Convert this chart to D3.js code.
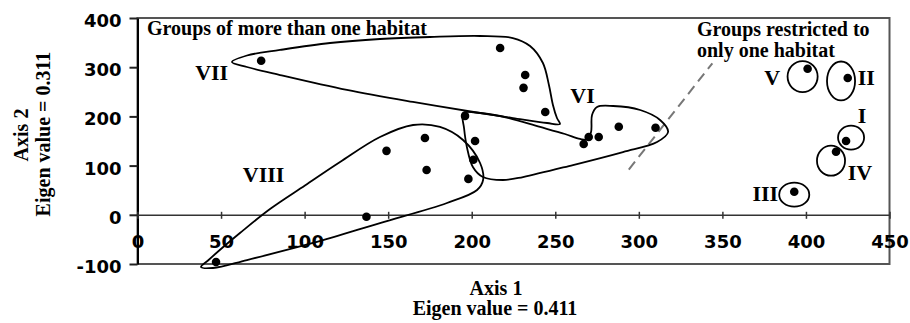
<!DOCTYPE html>
<head>
<meta charset="utf-8">
<style>

body {
  margin: 0;
  background: #fff;
}
.tick text {
  font-family: "DejaVu Sans", sans-serif;
  font-weight: bold;
  font-size: 18px;
  fill: #000;
}
.serif {
  font-family: "Liberation Serif", "Times New Roman", serif;
  font-weight: bold;
  fill: #000;
}

</style>
</head>
<body>
<script src="https://cdnjs.cloudflare.com/ajax/libs/d3/7.8.5/d3.min.js"></script>

<script>

// axis ticks
var xTicks = [0, 50, 100, 150, 200, 250, 300, 350, 400, 450];
var yTicks = [-100, 0, 100, 200, 300, 400];

// sites (axis 1, axis 2)
var sites = [
  [74, 313], [217, 339], [232, 284], [231, 258], [244, 209],
  [149, 130], [172, 156], [173, 91], [196, 201], [202, 150],
  [201, 112], [198, 73], [137, -4], [47, -96],
  [267, 144], [270, 158], [276, 158], [288, 179], [310, 177],
  [401, 297], [425, 278], [424, 150], [418, 128], [393, 47]
];

// hand drawn group outlines, in axis units
var groupVII = [
  [56.5, 310.6], [65.5, 323.8], [85.3, 335], [115.2, 349.2], [145.1, 357.3],
  [175, 361.4], [204.9, 363.4], [224.6, 359.3], [234.9, 343.1], [242.6, 308.5],
  [246.2, 263.8], [248.6, 223.2], [251, 196.7], [252.8, 184.6], [245.1, 186.6],
  [224.7, 196.7], [204.9, 206.9], [164.8, 229.3], [125.3, 253.7], [85.3, 284.1],
  [65.5, 300.4]
];
var groupVI = [
  [194.8, 206.9], [202, 207.9], [216.9, 200.8], [240.9, 178.5], [255.8, 164.2],
  [264.8, 154.1], [269, 153], [271.4, 168.3], [272, 202.8], [275, 219.1],
  [284.6, 221.1], [300.8, 213], [312.7, 192.7], [317.5, 168.3], [310.9, 148],
  [290.5, 127.6], [260.6, 101.2], [230.7, 76.8], [218.7, 70.7], [206.7, 76.8],
  [200.7, 97.2], [197.1, 137.8], [195.4, 176.4]
];
var groupVIII = [
  [38, -106.1], [42.2, -92.9], [50.6, -67.5], [61.3, -37], [79.3, 11.8],
  [100.2, 59.6], [121.2, 107.3], [145.1, 158.1], [164.9, 182.5], [181, 178.5],
  [194.8, 152], [205, 105.3], [206.8, 70.7], [203.2, 50.4], [185.2, 24],
  [145.1, -16.7], [105, -57.3], [65.5, -91.9], [45.2, -108.1]
];

// single habitat groups: centre x, centre y, radius x, radius y
var singleGroups = [
  [398, 281, 9, 31.5],
  [421, 272, 8.4, 39.6],
  [427, 157, 7.8, 24.4],
  [415, 110, 8.4, 30.5],
  [393, 41, 9, 24.4]
];

// dividing line
var divider = [[294, 92], [344, 308]];

// group names: text, x, y (left edge, baseline)
var groupNames = [
  ["VII", 34.5, 274], ["VIII", 63, 67], ["VI", 259, 228],
  ["V", 375, 264], ["II", 431, 264], ["I", 431, 187],
  ["IV", 425, 71], ["III", 368, 28]
];

var width = 910,
    height = 323;

var x = d3.scaleLinear().domain([0, 450]).range([137.5, 889.5]);
var y = d3.scaleLinear().domain([-100, 400]).range([264, 18]);

var svg = d3.select("body").append("svg")
    .attr("width", width)
    .attr("height", height);

// frame
svg.append("rect")
    .attr("x", x(0))
    .attr("y", y(400))
    .attr("width", x(450) - x(0))
    .attr("height", y(-100) - y(400))
    .attr("fill", "none")
    .attr("stroke", "#555")
    .attr("stroke-width", 2);

var plain = function(d) { return String(d); };

// y axis
var yAxis = svg.append("g")
    .attr("transform", "translate(" + x(0) + ",0)")
    .call(d3.axisLeft(y).tickValues(yTicks).tickFormat(plain)
      .tickSizeInner(8).tickSizeOuter(0).tickPadding(8));
yAxis.select(".domain").attr("stroke", "#000").attr("stroke-width", 2);
yAxis.selectAll(".tick line").attr("stroke", "#222").attr("stroke-width", 2);
yAxis.selectAll(".tick text").attr("dy", "0.47em").attr("x", -16);

// x axis along zero
var xAxis = svg.append("g")
    .attr("transform", "translate(0," + y(0) + ")")
    .call(d3.axisBottom(x).tickValues(xTicks).tickFormat(plain)
      .tickSizeInner(4).tickSizeOuter(0).tickPadding(16));
xAxis.select(".domain").attr("stroke", "#333").attr("stroke-width", 1.6);
xAxis.selectAll(".tick line").attr("stroke", "#333").attr("stroke-width", 1.5).attr("y1", -3);

// dividing line
svg.append("line")
    .attr("x1", x(divider[0][0]))
    .attr("y1", y(divider[0][1]))
    .attr("x2", x(divider[1][0]))
    .attr("y2", y(divider[1][1]))
    .attr("stroke", "#777")
    .attr("stroke-width", 2)
    .attr("stroke-dasharray", "10,6");

var outline = d3.line()
    .x(function(d) { return x(d[0]); })
    .y(function(d) { return y(d[1]); })
    .curve(d3.curveCatmullRomClosed.alpha(0.5));

svg.selectAll("path.group")
    .data([groupVII, groupVI, groupVIII])
  .enter().append("path")
    .attr("class", "group")
    .attr("d", outline)
    .attr("fill", "none")
    .attr("stroke", "#000")
    .attr("stroke-width", 1.8);

svg.selectAll("ellipse.single")
    .data(singleGroups)
  .enter().append("ellipse")
    .attr("class", "single")
    .attr("cx", function(d) { return x(d[0]); })
    .attr("cy", function(d) { return y(d[1]); })
    .attr("rx", function(d) { return x(d[0] + d[2]) - x(d[0]); })
    .attr("ry", function(d) { return y(d[1] - d[3]) - y(d[1]); })
    .attr("fill", "none")
    .attr("stroke", "#000")
    .attr("stroke-width", 1.8);

svg.selectAll("circle.site")
    .data(sites)
  .enter().append("circle")
    .attr("class", "site")
    .attr("cx", function(d) { return x(d[0]); })
    .attr("cy", function(d) { return y(d[1]); })
    .attr("r", 4.3)
    .attr("fill", "#000");

svg.selectAll("text.name")
    .data(groupNames)
  .enter().append("text")
    .attr("class", "name serif")
    .attr("x", function(d) { return x(d[1]); })
    .attr("y", function(d) { return y(d[2]); })
    .style("font-size", "22px")
    .text(function(d) { return d[0]; });

// captions
svg.append("text")
    .attr("class", "serif")
    .attr("x", 147)
    .attr("y", 35)
    .style("font-size", "20px")
    .text("Groups of more than one habitat");

svg.append("text")
    .attr("class", "serif")
    .attr("x", 697)
    .attr("y", 35.5)
    .style("font-size", "20px")
    .text("Groups restricted to");

svg.append("text")
    .attr("class", "serif")
    .attr("x", 697)
    .attr("y", 57)
    .style("font-size", "20px")
    .text("only one habitat");

// axis titles
svg.append("text")
    .attr("class", "serif")
    .attr("x", 496)
    .attr("y", 295)
    .attr("text-anchor", "middle")
    .style("font-size", "20px")
    .text("Axis 1");

svg.append("text")
    .attr("class", "serif")
    .attr("x", 495)
    .attr("y", 315)
    .attr("text-anchor", "middle")
    .style("font-size", "20px")
    .text("Eigen value = 0.411");

svg.append("text")
    .attr("class", "serif")
    .attr("transform", "translate(28,135) rotate(-90)")
    .attr("text-anchor", "middle")
    .style("font-size", "20px")
    .text("Axis 2");

svg.append("text")
    .attr("class", "serif")
    .attr("transform", "translate(50,134) rotate(-90)")
    .attr("text-anchor", "middle")
    .style("font-size", "20px")
    .text("Eigen value = 0.311");

</script>
</body>
</html>
